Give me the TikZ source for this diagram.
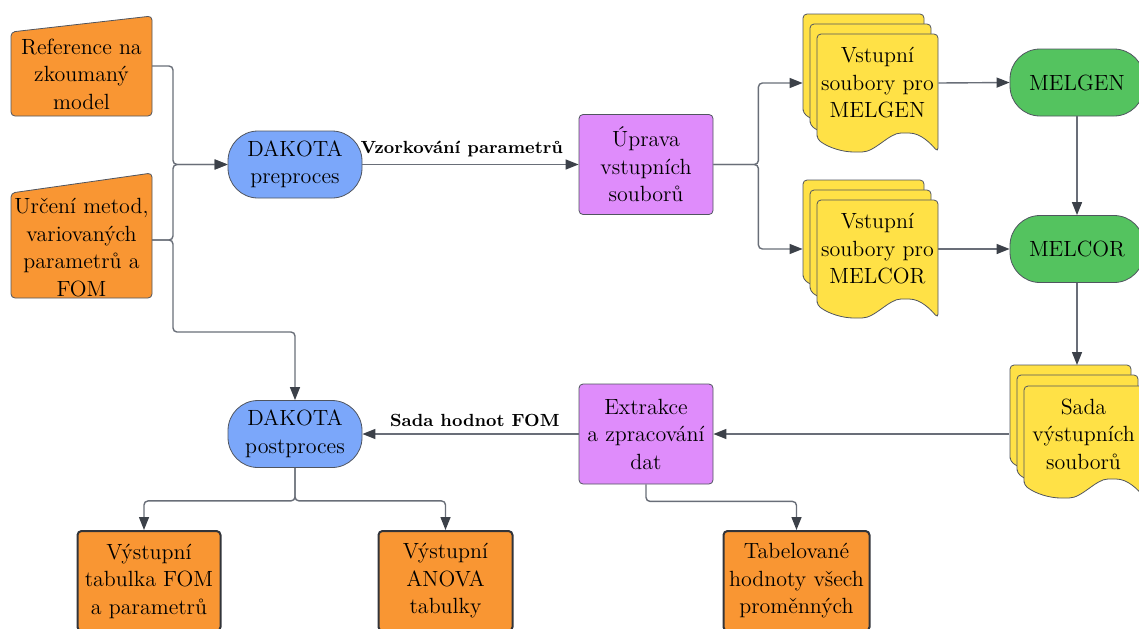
\documentclass[tikz,border=0pt]{standalone}
\usepackage{fontspec}
\usetikzlibrary{arrows.meta}
\usetikzlibrary{calc}
\definecolor{inorange}{RGB}{249,150,51}
\definecolor{dakblue}{RGB}{123,167,250}
\definecolor{procviolet}{RGB}{223,140,251}
\definecolor{docyellow}{RGB}{255,225,70}
\definecolor{melgreen}{RGB}{84,195,95}
\definecolor{edgegray}{RGB}{80,85,95}
\definecolor{linegray}{RGB}{105,110,120}
\definecolor{tipgray}{RGB}{60,65,73}
\definecolor{outline}{RGB}{50,52,58}

% one sheet of a stack: top left x, top left y, height
\newcommand{\docsheet}[3]{%
\draw[sheet] (#1,#2+#3) -- (#1,#2) -- (#1+121,#2) -- (#1+121,#2+#3+13)
  .. controls (#1+114,#2+#3+5) and (#1+104,#2+#3-6) .. (#1+88,#2+#3-6)
  .. controls (#1+72,#2+#3-6) and (#1+58,#2+#3+13) .. (#1+41,#2+#3+13)
  .. controls (#1+26,#2+#3+13) and (#1+12,#2+#3+9) .. (#1,#2+#3) -- cycle;
}

\begin{document}
\begin{tikzpicture}[x=0.5pt,y=-0.5pt,
  every node/.style={font=\fontsize{11}{13.75}\selectfont,align=center,inner sep=0pt},
  conn/.style={draw=linegray,line width=0.7pt,rounded corners=2pt},
  arr/.style={conn,-{Triangle[length=6.5pt,width=5pt,color=tipgray]}},
  dakota/.style={draw=edgegray,fill=dakblue,rounded corners=15pt,minimum width=67pt,minimum height=33.5pt},
  solver/.style={dakota,fill=melgreen},
  proc/.style={draw=edgegray,fill=procviolet,rounded corners=2pt,minimum width=67pt,minimum height=50pt},
  result/.style={draw=outline,line width=1pt,fill=inorange,rounded corners=2pt,minimum height=50pt},
  inshape/.style={draw=edgegray,fill=inorange,rounded corners=2pt},
  sheet/.style={draw=edgegray,fill=docyellow,rounded corners=2pt},
  doctext/.style={minimum width=60.5pt},
  intext/.style={minimum width=70.5pt},
  flowlbl/.style={font=\fontsize{8.8}{10}\selectfont\bfseries,above=3.5pt}
]
\useasboundingbox (0,0) rectangle (1139,628);
\clip (0,0) rectangle (1139,628);

% inputs
\draw[inshape] (11,32) -- (152,16) -- (152,116) -- (11,116) -- cycle;
\node[intext] (ref) at (81.5,74) {Reference na\\zkoumaný\\model};
\coordinate (ref-e) at (152,66);
\draw[inshape] (11,193) -- (152,173) -- (152,298) -- (11,298) -- cycle;
\node[intext] (urc) at (81.5,247.5) {Určení metod,\\variovaných\\parametrů a\\FOM};
\coordinate (urc-e) at (152,240);

% stacks of files
\docsheet{803}{14}{99}
\docsheet{810}{24}{101}
\docsheet{817}{34}{105}
\node[doctext] (gendoc) at (877.5,83) {Vstupní\\soubory pro\\MELGEN};
\docsheet{803}{180}{99}
\docsheet{810}{190}{101}
\docsheet{817}{200}{105}
\node[doctext] (cordoc) at (877.5,249) {Vstupní\\soubory pro\\MELCOR};
\docsheet{1010}{365}{96}
\docsheet{1017}{375}{98}
\docsheet{1024}{386}{99}
\node[doctext] (sada) at (1083.5,434) {Sada\\výstupních\\souborů};
\coordinate (sada-top) at (1077,365);

% processes
\node[dakota] (pre) at (295,164.5) {DAKOTA\\preproces};
\node[proc] (upr) at (646,164.5) {Úprava\\vstupních\\souborů};
\node[solver] (melgen) at (1077,82.5) {MELGEN};
\node[solver] (melcor) at (1077,249) {MELCOR};
\node[dakota] (post) at (295,434) {DAKOTA\\postproces};
\node[proc] (ext) at (646,434) {Extrakce\\a zpracování\\dat};

% outputs
\node[result,minimum width=71.5pt] (out1) at (149,581) {Výstupní\\tabulka FOM\\a parametrů};
\node[result,minimum width=67pt] (out2) at (445.5,581) {Výstupní\\ANOVA\\tabulky};
\node[result,minimum width=73pt] (tab) at (796.5,581) {Tabelované\\hodnoty všech\\proměnných};

% connectors
\coordinate (inj) at (173,164.5);
\coordinate (postj) at (173,332);
\draw[arr] (ref-e) -| (inj) -- (pre.west);
\draw[arr] (urc-e) -| (inj) -- (pre.west);
\draw[arr] (urc-e) -| (postj) -| (post.north);
\draw[arr] (pre) -- node[flowlbl,pos=0.46] {Vzorkování parametrů} (upr);
\draw[arr] (upr.east) -- ++(45,0) |- ([xshift=-7pt]gendoc.west);
\draw[arr] (upr.east) -- ++(45,0) |- ([xshift=-7pt]cordoc.west);
\draw[arr] (gendoc.east) -- (melgen.west);
\draw[arr] (cordoc.east) -- (melcor.west);
\draw[arr] (melgen.south) -- (melcor.north);
\draw[arr] (melcor.south) -- (sada-top);
\draw[arr] ([xshift=-7pt]sada.west) -- (ext.east);
\draw[arr] (ext) -- node[flowlbl,pos=0.48] {Sada hodnot FOM} (post);
\draw[arr] (ext.south) -- ++(0,17) -| (tab.north);
\draw[arr] (post.south) -- ++(0,33) -| ([xshift=-2.5pt]out1.north);
\draw[arr] (post.south) -- ++(0,33) -| (out2.north);
\end{tikzpicture}
\end{document}
